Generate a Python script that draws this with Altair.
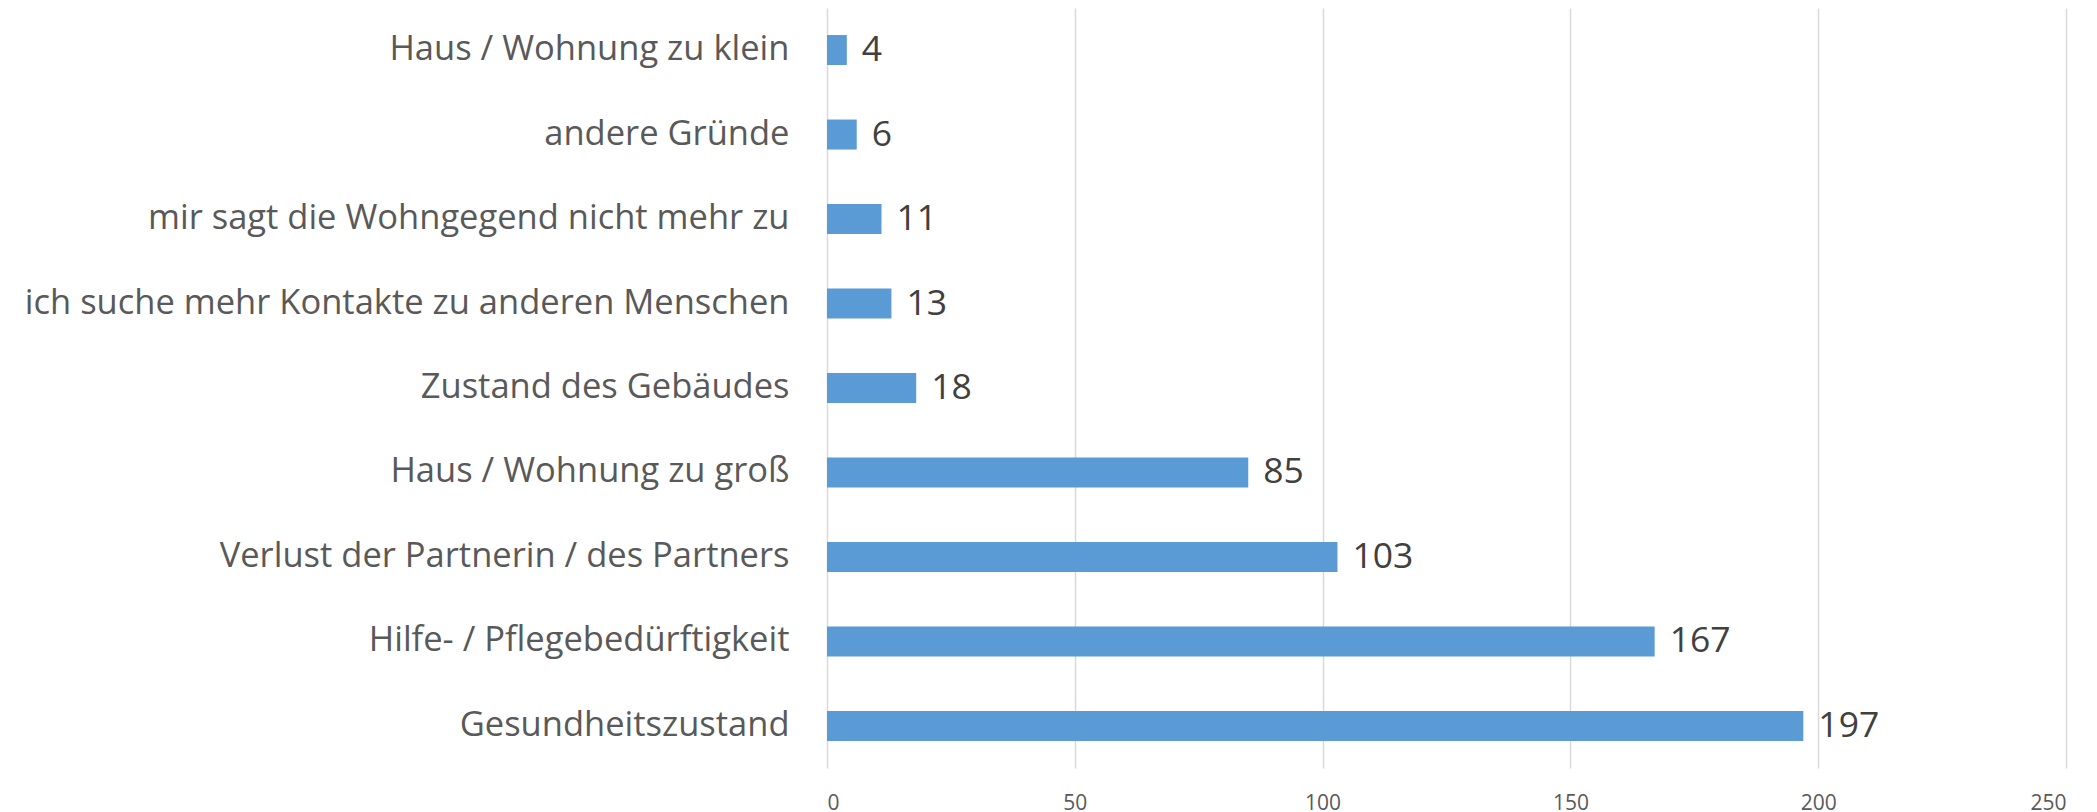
import altair as alt
import pandas as pd

categories = [
    "Haus / Wohnung zu klein",
    "andere Gründe",
    "mir sagt die Wohngegend nicht mehr zu",
    "ich suche mehr Kontakte zu anderen Menschen",
    "Zustand des Gebäudes",
    "Haus / Wohnung zu groß",
    "Verlust der Partnerin / des Partners",
    "Hilfe- / Pflegebedürftigkeit",
    "Gesundheitszustand",
]
values = [4, 6, 11, 13, 18, 85, 103, 167, 197]
x_ticks = [0, 50, 100, 150, 200, 250]

df = pd.DataFrame({"Grund": categories, "Anzahl": values})

FONT = "Open Sans"

y_enc = alt.Y(
    "Grund:N",
    sort=categories,
    scale=alt.Scale(paddingInner=0.645, paddingOuter=0.32),
    axis=alt.Axis(
        title=None,
        ticks=False,
        domain=False,
        labelFontSize=34.5,
        labelColor="#595959",
        labelFont=FONT,
        labelPadding=38,
        labelLimit=2000,
    ),
)
x_enc = alt.X(
    "Anzahl:Q",
    scale=alt.Scale(domain=[0, 250], nice=False),
    axis=alt.Axis(
        title=None,
        values=x_ticks,
        ticks=False,
        domain=False,
        grid=True,
        gridColor="#D9D9D9",
        gridWidth=1.5,
        labelFontSize=21,
        labelColor="#595959",
        labelFont=FONT,
        labelPadding=24,
    ),
)

bars = alt.Chart(df).mark_bar(color="#5B9BD5").encode(x=x_enc, y=y_enc)
labels = alt.Chart(df).mark_text(
    align="left", baseline="middle", dx=15, fontSize=35.5, color="#404040", font=FONT
).encode(x="Anzahl:Q", y=alt.Y("Grund:N", sort=categories), text="Anzahl:Q")

chart = (
    alt.layer(bars, labels)
    .properties(
        width=1239,
        height=760,
        autosize=alt.AutoSizeParams(type="none"),
        padding={"left": 819, "top": 0, "right": 20, "bottom": 60},
    )
    .configure_view(stroke=None)
)

chart.save("out.html", embed_options={"renderer": "svg", "actions": False})
